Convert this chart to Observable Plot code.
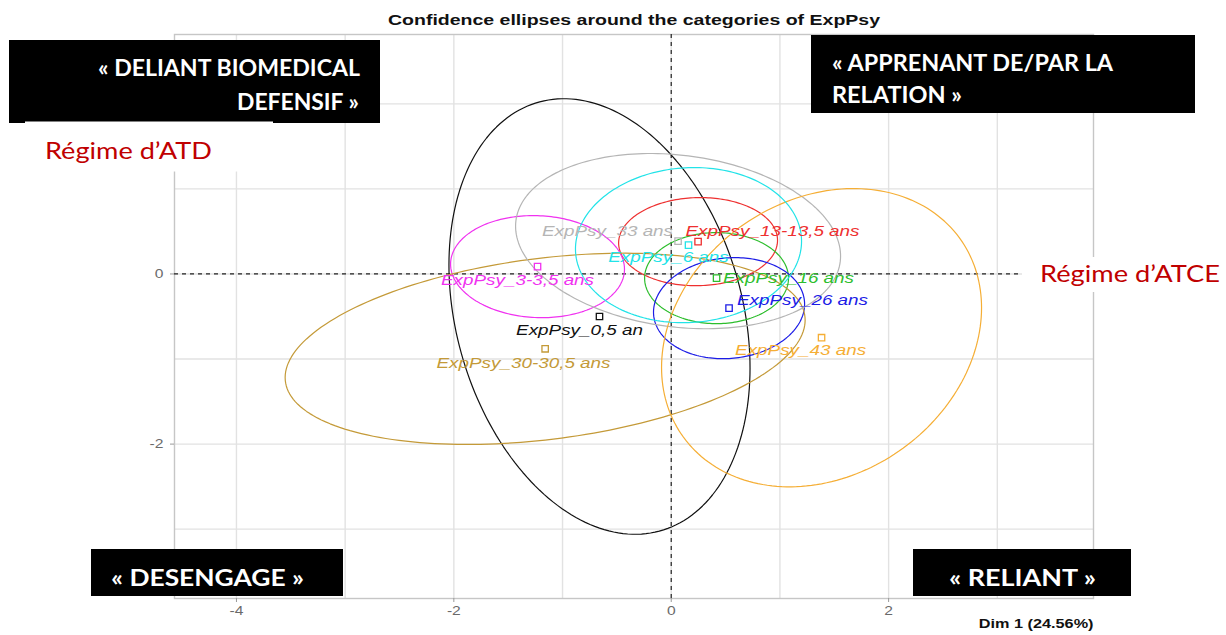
<!DOCTYPE html>
<html><head><meta charset="utf-8">
<script src="https://cdn.jsdelivr.net/npm/d3@7"></script>
<script src="https://cdn.jsdelivr.net/npm/@observablehq/plot@0.6"></script>
<style>
body{margin:0;background:#fff;width:1226px;height:635px;overflow:hidden;position:relative}
#chart{position:absolute;left:0;top:0}
</style></head><body>
<div id="chart"></div>
<script>
// ---- data ----
const categories = ["ExpPsy_0,5 an","ExpPsy_13-13,5 ans","ExpPsy_16 ans","ExpPsy_26 ans","ExpPsy_3-3,5 ans","ExpPsy_30-30,5 ans","ExpPsy_33 ans","ExpPsy_43 ans","ExpPsy_6 ans"];
const colors     = ["#111111","#EE3030","#2DBE2D","#1C1CE6","#F032F0","#C49A38","#B5B5B5","#F5AE35","#22E3E8"];
const dim1       = [-0.66, 0.247, 0.417, 0.532, -1.23, -1.16, 0.063, 1.383, 0.159];
const dim2       = [-0.50, 0.38, -0.049, -0.402, 0.086, -0.88, 0.386, -0.749, 0.339];
// confidence ellipse: half extent along Dim 1, half extent along Dim 2, tilt (cos of phase)
const ellRx      = [1.385, 0.731, 0.662, 0.695, 0.80, 2.392, 1.495, 1.472, 1.04];
const ellRy      = [2.56, 0.518, 0.535, 0.594, 0.60, 1.124, 1.03, 1.753, 0.912];
const ellTilt    = [-0.236, 0.03, 0.0, 0.08, -0.05, 0.30, -0.17, 0.20, 0.05];
// label anchor positions (Dim 1, Dim 2)
const labelX     = [-0.844, 0.932, 1.079, 1.208, -1.414, -1.359, -0.586, 1.19, -0.025];
const labelY     = [-0.667, 0.498, -0.055, -0.314, -0.079, -1.055, 0.498, -0.902, 0.192];
const xTicks = [-4, -2, 0, 2];
const yTicks = [-2, 0, 2];
const gridXTicks = [-4, -3, -2, -1, 0, 1, 2, 3];
const gridYTicks = [-3, -2, -1, 0, 1, 2];
const title = "Confidence ellipses around the categories of ExpPsy";
const xLabel = "Dim 1 (24.56%)";

// ---- tables for Plot ----
const points = categories.map((c, i) => ({cat: c, x: dim1[i], y: dim2[i], lx: labelX[i], ly: labelY[i]}));
const ellipsePts = [];
categories.forEach((c, i) => {
  const phi = Math.acos(ellTilt[i]);
  const N = 200;
  for (let k = 0; k <= N; k++) {
    const t = 2 * Math.PI * k / N;
    ellipsePts.push({cat: c, x: dim1[i] + ellRx[i] * Math.cos(t), y: dim2[i] + ellRy[i] * Math.cos(t - phi)});
  }
});
const fmt = d => String(d);

const chart = Plot.plot({
  width: 1226, height: 635,
  marginLeft: 174, marginRight: 133, marginTop: 34, marginBottom: 37,
  x: {domain: [-4.57, 3.885], label: null},
  y: {domain: [-3.815, 2.815], label: null},
  color: {domain: categories, range: colors},
  style: {fontFamily: '"Liberation Sans", Arial, sans-serif', background: "#fff", overflow: "visible"},
  marks: [
    Plot.gridX(gridXTicks, {stroke: "#e2e2e2", strokeOpacity: 1, strokeWidth: 1.4}),
    Plot.gridY(gridYTicks, {stroke: "#e2e2e2", strokeOpacity: 1, strokeWidth: 1.4}),
    Plot.frame({stroke: "#c6c6c6", strokeWidth: 1.4}),
    Plot.axisX(xTicks, {tickSize: 4, tickPadding: 4, fontSize: 12, stroke: "#999", fill: "#6a6a6a", label: null, tickFormat: fmt}),
    Plot.axisY(yTicks, {tickSize: 4, tickPadding: 7, fontSize: 12, stroke: "#999", fill: "#6a6a6a", label: null, tickFormat: fmt}),
    Plot.ruleX([0], {stroke: "#222", strokeDasharray: "4,4", strokeWidth: 1.2}),
    Plot.ruleY([0], {stroke: "#222", strokeDasharray: "4,4", strokeWidth: 1.2}),
    Plot.line(ellipsePts, {x: "x", y: "y", z: "cat", stroke: "cat", strokeWidth: 1.2}),
    Plot.dot(points, {x: "x", y: "y", stroke: "cat", symbol: "square", r: 3.6, strokeWidth: 1.3}),
    Plot.text(points, {x: "lx", y: "ly", text: "cat", fill: "cat", fontStyle: "italic", fontSize: 14.5}),
    Plot.text([title], {text: d => d, frameAnchor: "top", dy: -10, lineAnchor: "bottom", fontWeight: "bold", fontSize: 15, fill: "#111"}),
    Plot.text([xLabel], {text: d => d, frameAnchor: "bottom-right", textAnchor: "end", dy: 29, fontWeight: "bold", fontSize: 12.5, fill: "#111"})
  ]
});
document.getElementById("chart").append(chart);

// the R picture is stretched horizontally: widen its texts the same way
const STRETCH = 1.3;
chart.querySelectorAll("text").forEach(t => {
  const w = t.getComputedTextLength();
  if (w > 0) { t.setAttribute("textLength", (w * STRETCH).toFixed(1)); t.setAttribute("lengthAdjust", "spacingAndGlyphs"); }
});

// ---- annotation overlay (boxes and red labels added on top of the figure) ----
const boxes = [
  {x: 9, y: 40, w: 371, h: 83, fill: "#000"},
  {x: 25, y: 121.5, w: 248, h: 50, fill: "#fff"},
  {x: 811, y: 35, w: 384, h: 78, fill: "#000"},
  {x: 91, y: 549, w: 252, h: 47, fill: "#000"},
  {x: 913, y: 549, w: 218, h: 47, fill: "#000"},
  {x: 1022, y: 257, w: 204, h: 35, fill: "#fff"}
];
const notes = [
  {t: "« DELIANT BIOMEDICAL", x: 98, y: 76, w: 262, c: "#fff", b: 700, s: 22},
  {t: "DEFENSIF »", x: 237, y: 110, w: 122, c: "#fff", b: 700, s: 22},
  {t: "« APPRENANT DE/PAR LA", x: 832, y: 71, w: 281, c: "#fff", b: 700, s: 22},
  {t: "RELATION »", x: 832, y: 103, w: 130, c: "#fff", b: 700, s: 22},
  {t: "« DESENGAGE »", x: 111, y: 586, w: 193, c: "#fff", b: 700, s: 22},
  {t: "« RELIANT »", x: 949, y: 586, w: 147, c: "#fff", b: 700, s: 22},
  {t: "Régime d’ATD", x: 45, y: 159, w: 167, c: "#C00000", b: 400, s: 24},
  {t: "Régime d’ATCE", x: 1040, y: 282, w: 180, c: "#C00000", b: 400, s: 24}
];
const ov = d3.select("body").append("svg")
  .attr("width", 1226).attr("height", 635)
  .style("position", "absolute").style("left", 0).style("top", 0);
ov.selectAll("rect").data(boxes).join("rect")
  .attr("x", d => d.x).attr("y", d => d.y).attr("width", d => d.w).attr("height", d => d.h).attr("fill", d => d.fill);
ov.selectAll("text").data(notes).join("text")
  .attr("x", d => d.x).attr("y", d => d.y)
  .attr("fill", d => d.c).attr("font-weight", d => d.b).attr("font-size", d => d.s)
  .attr("font-family", "Lato, 'Open Sans', sans-serif")
  .attr("textLength", d => d.w).attr("lengthAdjust", "spacingAndGlyphs")
  .text(d => d.t);
</script>
</body></html>
